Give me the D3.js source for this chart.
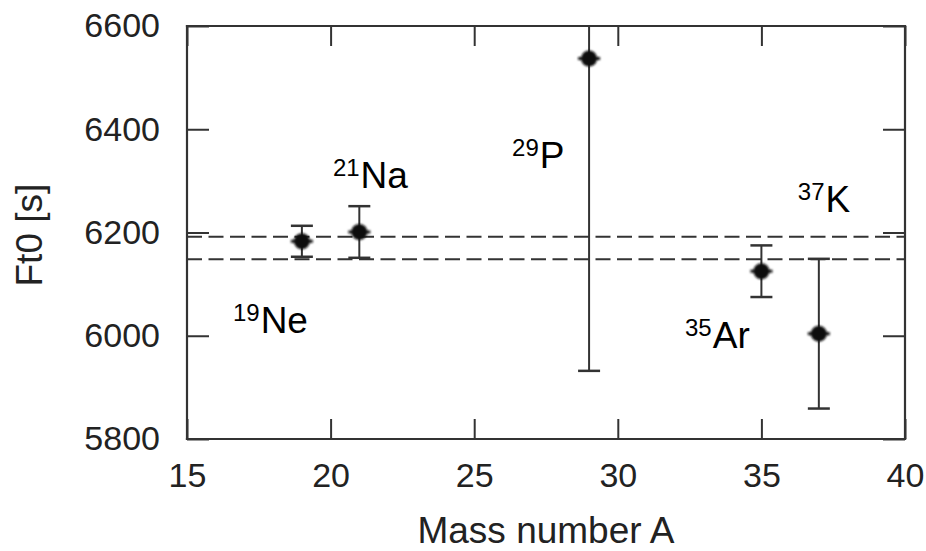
<!DOCTYPE html>
<html>
<head>
<meta charset="utf-8">
<script src="https://cdn.jsdelivr.net/npm/d3@7"></script>
<style>
  body { margin: 0; background: #fff; }
  text { font-family: "Liberation Sans", Arial, sans-serif; fill: #222; }
</style>
</head>
<body>
<div class="box"></div>
<script>
// DATA
const massNumbers = [19, 21, 29, 35, 37];
const ftValues = [6183, 6201, 6537, 6125, 6004];
const ftErrors = [30, 50, 605, 50, 145];
const bandLimits = [6192, 6148];
const xTicks = [15, 20, 25, 30, 35, 40];
const yTicks = [5800, 6000, 6200, 6400, 6600];
const labelMass = ["19", "21", "29", "37", "35"];
const labelSymbol = ["Ne", "Na", "P", "K", "Ar"];
const labelX = [16.6, 20.08, 26.32, 36.27, 32.34];
const labelY = [6006, 6287, 6324, 6239, 5977];

// SVG
const w = 926;
const h = 551;
const margin = {top: 26, right: 21, bottom: 112, left: 187};

const svg = d3.select(".box")
    .append("svg")
    .attr("width", w)
    .attr("height", h);

const x = d3.scaleLinear().domain([15, 40]).range([margin.left, w - margin.right]);
const y = d3.scaleLinear().domain([5800, 6600]).range([h - margin.bottom, margin.top]);

const lineColor = "#333";

// clip for the error bars that leave the frame
svg.append("defs")
    .append("clipPath")
    .attr("id", "plotclip")
    .append("rect")
    .attr("x", x(15))
    .attr("y", y(6600))
    .attr("width", x(40) - x(15))
    .attr("height", y(5800) - y(6600));

// AXES (ticks point inward)
const gBottom = svg.append("g")
    .attr("transform", "translate(0," + y(5800) + ")")
    .call(d3.axisBottom(x).tickValues(xTicks).tickSize(-20).tickPadding(24));
const gTop = svg.append("g")
    .attr("transform", "translate(0," + y(6600) + ")")
    .call(d3.axisTop(x).tickValues(xTicks).tickSize(-20).tickFormat(""));
const gLeft = svg.append("g")
    .attr("transform", "translate(" + x(15) + ",0)")
    .call(d3.axisLeft(y).tickValues(yTicks).tickSize(-22).tickPadding(27).tickFormat(d3.format("d")));
const gRight = svg.append("g")
    .attr("transform", "translate(" + x(40) + ",0)")
    .call(d3.axisRight(y).tickValues(yTicks).tickSize(-22).tickFormat(""));

[gBottom, gTop, gLeft, gRight].forEach(g => {
    g.select(".domain").remove();
    g.selectAll("line").attr("stroke", lineColor).attr("stroke-width", 2);
    g.selectAll("text")
        .attr("fill", "#222")
        .style("font-family", '"Liberation Sans", Arial, sans-serif')
        .style("font-size", "34px");
});

// frame: four edges of the plot box
const edges = [
    [15, 6600, 40, 6600],
    [40, 6600, 40, 5800],
    [40, 5800, 15, 5800],
    [15, 5800, 15, 6600]
];
svg.selectAll(".edge")
    .data(edges)
    .enter()
    .append("line")
    .attr("class", "edge")
    .attr("x1", d => x(d[0]))
    .attr("y1", d => y(d[1]))
    .attr("x2", d => x(d[2]))
    .attr("y2", d => y(d[3]))
    .attr("stroke", lineColor)
    .attr("stroke-width", 2.2)
    .attr("stroke-linecap", "square");

// dashed band
svg.selectAll(".band")
    .data(bandLimits)
    .enter()
    .append("line")
    .attr("class", "band")
    .attr("x1", x(15))
    .attr("x2", x(40))
    .attr("y1", d => y(d))
    .attr("y2", d => y(d))
    .attr("stroke", lineColor)
    .attr("stroke-width", 2)
    .attr("stroke-dasharray", "15,6.5");

// ERROR BARS
const points = massNumbers.map((m, i) => ({m: m, v: ftValues[i], e: ftErrors[i]}));
const bars = svg.append("g").attr("clip-path", "url(#plotclip)");
const cap = 11;

bars.selectAll(".err")
    .data(points)
    .enter()
    .append("line")
    .attr("x1", d => x(d.m))
    .attr("x2", d => x(d.m))
    .attr("y1", d => y(d.v - d.e))
    .attr("y2", d => y(d.v + d.e))
    .attr("stroke", lineColor)
    .attr("stroke-width", 2);

[-1, 1].forEach(s => {
    bars.selectAll(".cap" + (s > 0 ? "up" : "down"))
        .data(points)
        .enter()
        .append("line")
        .attr("x1", d => x(d.m) - cap)
        .attr("x2", d => x(d.m) + cap)
        .attr("y1", d => y(d.v + s * d.e))
        .attr("y2", d => y(d.v + s * d.e))
        .attr("stroke", lineColor)
        .attr("stroke-width", 2.5);
});

// markers
const blur = svg.select("defs").append("filter").attr("id", "soft");
blur.append("feGaussianBlur").attr("stdDeviation", 0.9);

const marks = svg.selectAll(".mark")
    .data(points)
    .enter()
    .append("g")
    .attr("class", "mark")
    .attr("filter", "url(#soft)");
marks.append("circle")
    .attr("cx", d => x(d.m))
    .attr("cy", d => y(d.v))
    .attr("r", 8)
    .attr("fill", "#111");
marks.append("line")
    .attr("x1", d => x(d.m) - 11)
    .attr("x2", d => x(d.m) + 11)
    .attr("y1", d => y(d.v))
    .attr("y2", d => y(d.v))
    .attr("stroke", "#111")
    .attr("stroke-width", 3);

// NUCLIDE LABELS
const labels = svg.selectAll(".nuc")
    .data(labelMass)
    .enter()
    .append("text")
    .attr("class", "nuc")
    .attr("x", (d, i) => x(labelX[i]))
    .attr("y", (d, i) => y(labelY[i]))
    .style("font-size", "37px")
    .style("fill", "#000");
labels.append("tspan")
    .attr("dy", -12)
    .style("font-size", "24px")
    .text(d => d);
labels.append("tspan")
    .attr("dy", 12)
    .attr("dx", 1)
    .text((d, i) => labelSymbol[i]);

// AXIS TITLES
svg.append("text")
    .attr("x", (x(15) + x(40)) / 2)
    .attr("y", 543)
    .attr("text-anchor", "middle")
    .style("font-size", "37px")
    .text("Mass number A");

svg.append("text")
    .attr("transform", "translate(42," + y(6195) + ") rotate(-90)")
    .attr("text-anchor", "middle")
    .style("font-size", "37px")
    .text("Ft0 [s]");
</script>
</body>
</html>
